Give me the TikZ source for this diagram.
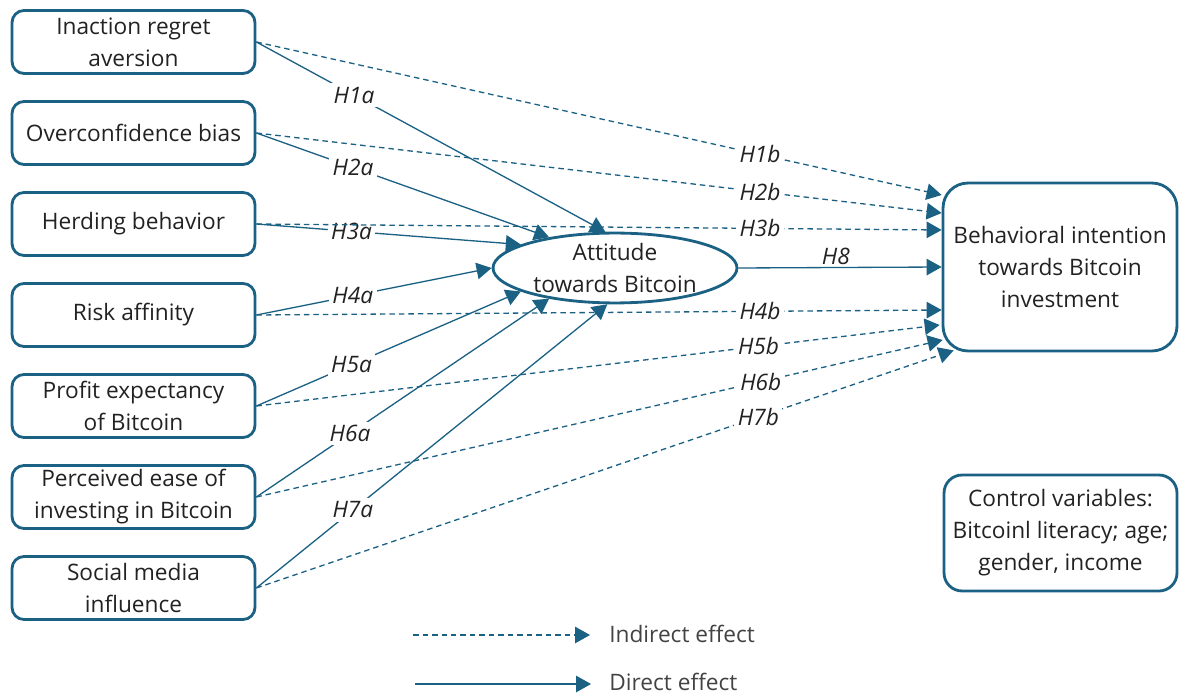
\documentclass[tikz,border=0pt]{standalone}
\usepackage{fontspec}
\setmainfont{Open Sans}
\usetikzlibrary{arrows.meta,shapes.geometric,calc}
\definecolor{ln}{HTML}{1B6184}
\definecolor{tx}{HTML}{222222}
\begin{document}
\begin{tikzpicture}[x=0.02cm,y=-0.02cm,
  txt/.style={text=tx,font=\fontsize{12.9}{18.2}\selectfont},
  box/.style={txt,draw=ln,line width=1.6pt,rounded corners=0.24cm,minimum width=4.86cm,minimum height=1.26cm,align=center,inner sep=0pt},
  oval/.style={txt,draw=ln,line width=1.6pt,ellipse,minimum width=4.88cm,minimum height=1.32cm,align=center,inner sep=0pt},
  conn/.style={draw=ln,line width=0.75pt,-{Triangle[length=0.3cm,width=0.33cm]}},
  direct/.style={conn},
  indirect/.style={conn,dash pattern=on 0.11cm off 0.08cm},
  lab/.style={txt,font=\fontsize{12.9}{15}\selectfont\itshape,fill=white,inner sep=2pt}
]
\useasboundingbox (0,0) rectangle (1179,695);

% left boxes
\node[box] (b1) at (133.5,42) {Inaction regret\\aversion};
\node[box] (b2) at (133.5,133) {Overconfidence bias};
\node[box] (b3) at (133.5,224) {Herding behavior};
\node[box] (b4) at (133.5,315) {Risk affinity};
\node[box] (b5) at (133.5,406) {Profit expectancy\\of Bitcoin};
\node[box] (b6) at (133.5,497) {Perceived ease of\\investing in Bitcoin};
\node[box] (b7) at (133.5,588) {Social media\\influence};

% central and right nodes
\node[oval] (att) at (615,268) {Attitude\\towards Bitcoin};
\node[box,minimum width=4.68cm,minimum height=3.36cm,rounded corners=0.5cm] (bi) at (1060,267) {Behavioral intention\\towards Bitcoin\\investment};
\node[box,minimum width=4.66cm,minimum height=2.32cm,rounded corners=0.36cm] (cv) at (1060.5,533) {Control variables:\\Bitcoinl literacy; age;\\gender, income};

% direct effects to attitude
\draw[direct] (b1.east) -- (att.105) node[lab,pos=0.28] {H1a};
\draw[direct] (b2.east) -- (att.155) node[lab,pos=0.33] {H2a};
\draw[direct] (b3.east) -- (att.166) node[lab,pos=0.36] {H3a};
\draw[direct] (b4.east) -- (att.180) node[lab,pos=0.41] {H4a};
\draw[direct] (b5.east) -- (att.194) node[lab,pos=0.36] {H5a};
\draw[direct] (b6.east) -- (att.205) node[lab,pos=0.32] {H6a};
\draw[direct] (b7.east) -- (att.258) node[lab,pos=0.275] {H7a};

% indirect effects to intention
\draw[indirect] (b1.east) -- ($(bi.west)+(0,-72)$) node[lab,pos=0.735] {H1b};
\draw[indirect] (b2.east) -- ($(bi.west)+(0,-54)$) node[lab,pos=0.735] {H2b};
\draw[indirect] (b3.east) -- ($(bi.west)+(0,-37)$) node[lab,pos=0.735] {H3b};
\draw[indirect] (b4.east) -- ($(bi.west)+(0,43)$) node[lab,pos=0.735] {H4b};
\draw[indirect] (b5.east) -- ($(bi.west)+(-2,58)$) node[lab,pos=0.735] {H5b};
\draw[indirect] (b6.east) -- ($(bi.west)+(1,73)$) node[lab,pos=0.735] {H6b};
\draw[indirect] (b7.east) -- ($(bi.south west)+(12,-2)$) node[lab,pos=0.72] {H7b};

% H8
\draw[direct] (att.east) -- (bi.west) node[lab,pos=0.48,above,fill=none,inner sep=1pt] {H8};

% legend
\coordinate (l1a) at (413,635);
\coordinate (l1b) at (590,635);
\coordinate (l2a) at (415,684);
\coordinate (l2b) at (591,684);
\draw[indirect] (l1a) -- (l1b);
\draw[direct] (l2a) -- (l2b);
\node[txt,anchor=west,inner sep=0pt,text=tx!85] (lg1) at (609,634) {Indirect effect};
\node[txt,anchor=west,inner sep=0pt,text=tx!85] (lg2) at (609,682) {Direct effect};
\end{tikzpicture}
\end{document}
